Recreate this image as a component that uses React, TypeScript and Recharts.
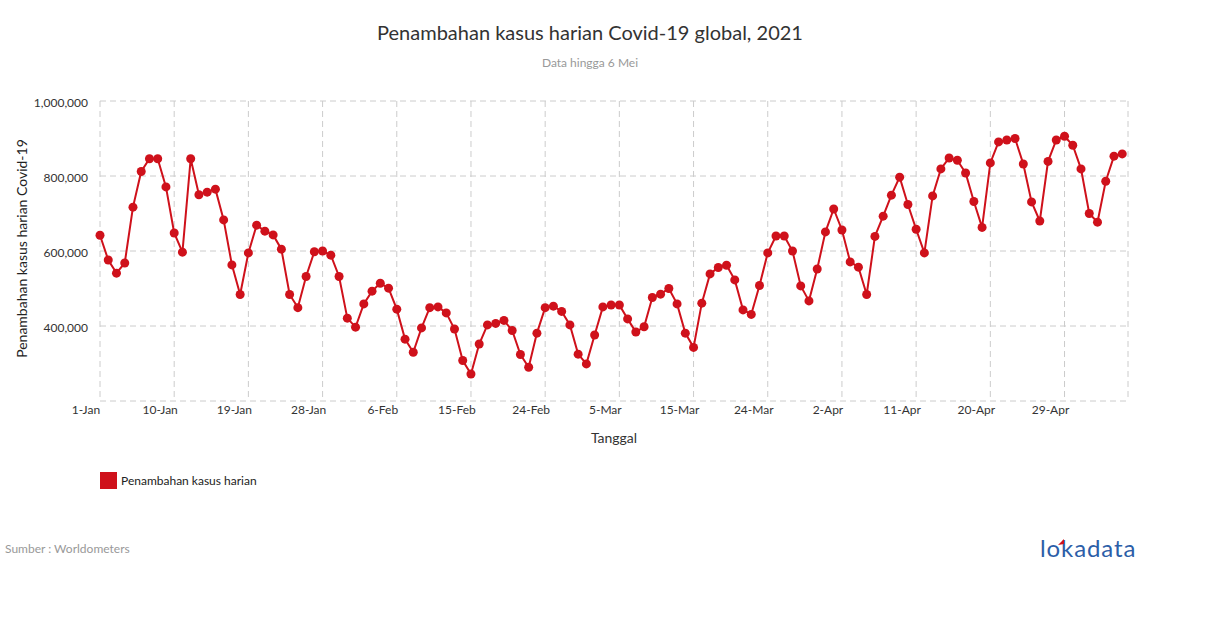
import React from 'react';
import { LineChart, Line, XAxis, YAxis, CartesianGrid } from 'recharts';

// kasus harian global, 1 Jan - 5 Mei 2021
const dailyCases = [
  642000, 576000, 541000, 568000, 717000, 812000, 846000, 846000, 771000, 648000,
  597000, 846000, 750000, 757000, 765000, 683000, 563000, 484000, 595000, 669000,
  653000, 643000, 605000, 484000, 449000, 532000, 598000, 600000, 589000, 532000,
  421000, 397000, 459000, 493000, 514000, 501000, 445000, 365000, 330000, 395000,
  449000, 451000, 435000, 392000, 308000, 272000, 352000, 403000, 407000, 415000,
  388000, 324000, 290000, 381000, 449000, 453000, 439000, 403000, 325000, 299000,
  376000, 451000, 456000, 456000, 419000, 384000, 398000, 476000, 485000, 500000,
  459000, 381000, 343000, 461000, 539000, 556000, 562000, 523000, 443000, 431000,
  508000, 595000, 640000, 640000, 600000, 507000, 467000, 552000, 651000, 712000,
  656000, 571000, 557000, 484000, 639000, 693000, 749000, 797000, 724000, 658000,
  595000, 747000, 819000, 848000, 842000, 808000, 732000, 663000, 835000, 891000,
  896000, 900000, 832000, 731000, 680000, 839000, 896000, 906000, 882000, 819000,
  700000, 677000, 786000, 853000, 859000,
];

const xTicks = [0, 9, 18, 27, 36, 45, 54, 63, 72, 81, 90, 99, 108, 117];
const xTickLabels = [
  '1-Jan', '10-Jan', '19-Jan', '28-Jan', '6-Feb', '15-Feb', '24-Feb',
  '5-Mar', '15-Mar', '24-Mar', '2-Apr', '11-Apr', '20-Apr', '29-Apr',
];
const yTicks = [200000, 400000, 600000, 800000, 1000000];

const RED = '#cf111b';
const FONT = 'Lato, "Open Sans", sans-serif';

const data = dailyCases.map((v, i) => ({ day: i, kasus: v }));

const fmt = (v: number) => (v === 200000 ? '' : v.toLocaleString('en-US'));
const xLabel = (v: number) => {
  const idx = xTicks.indexOf(v);
  return idx >= 0 ? xTickLabels[idx] : '';
};

export default function App() {
  return (
    <div style={{ position: 'absolute', left: 0, top: 0, width: 1210, height: 628, background: '#fff', fontFamily: FONT }}>
      <div style={{ position: 'absolute', top: 20, left: 0, width: 1180, textAlign: 'center', fontSize: 20, color: '#333' }}>
        Penambahan kasus harian Covid-19 global, 2021
      </div>
      <div style={{ position: 'absolute', top: 55, left: 0, width: 1180, textAlign: 'center', fontSize: 12, color: '#999' }}>
        Data hingga 6 Mei
      </div>

      <LineChart width={1210} height={628} data={data} margin={{ top: 101, right: 82, left: 0, bottom: 197 }}>
        <CartesianGrid stroke="#ccc" strokeDasharray="6 4" />
        <XAxis
          dataKey="day"
          type="number"
          domain={[0, 124.7]}
          ticks={xTicks}
          tickFormatter={xLabel}
          axisLine={false}
          tickLine={false}
          tickSize={0}
          tickMargin={4}
          height={30}
          tick={{ fill: '#333', fontSize: 12, dx: -14 }}
          label={{ value: 'Tanggal', position: 'insideBottom', offset: -12, fill: '#333', fontSize: 14 }}
        />
        <YAxis
          type="number"
          domain={[200000, 1000000]}
          ticks={yTicks}
          tickFormatter={fmt}
          axisLine={false}
          tickLine={false}
          tickSize={0}
          tickMargin={12}
          width={100}
          tick={{ fill: '#333', fontSize: 12, dy: 2 }}
        />
        <Line
          type="linear"
          dataKey="kasus"
          stroke={RED}
          strokeWidth={2}
          dot={{ r: 4.5, fill: RED, stroke: 'none' }}
          isAnimationActive={false}
        />
      </LineChart>

      <div
        style={{
          position: 'absolute', left: 21, top: 249, width: 260, marginLeft: -130, marginTop: -9,
          textAlign: 'center', fontSize: 14, color: '#222', transform: 'rotate(-90deg)', whiteSpace: 'nowrap',
        }}
      >
        Penambahan kasus harian Covid-19
      </div>

      <div style={{ position: 'absolute', left: 100, top: 472, display: 'flex', alignItems: 'center', fontSize: 12, color: '#222' }}>
        <span style={{ width: 17, height: 17, background: RED, display: 'inline-block', marginRight: 4 }} />
        Penambahan kasus harian
      </div>

      <div style={{ position: 'absolute', left: 5, top: 541, fontSize: 12, color: '#999' }}>
        Sumber : Worldometers
      </div>
      <div style={{ position: 'absolute', left: 1040, top: 533, fontSize: 24, color: '#2c5ea8', letterSpacing: 0.9 }}>
        lokadata
      </div>
      <svg style={{ position: 'absolute', left: 1057, top: 538 }} width={8} height={8}>
        <polygon points="1,7 7,1 7,6" fill={RED} />
      </svg>
    </div>
  );
}
